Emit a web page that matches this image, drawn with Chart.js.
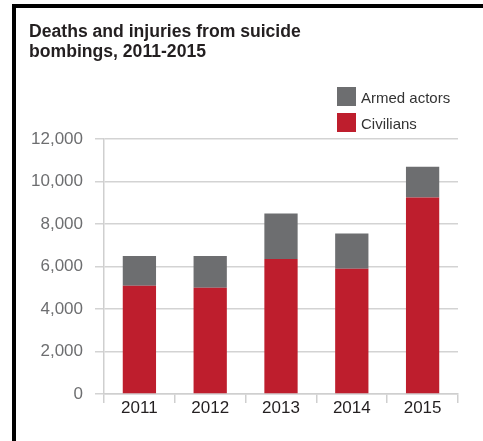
<!DOCTYPE html>
<html lang="en">
<head>
    <meta charset="utf-8">
    <title>Deaths and injuries from suicide bombings</title>
    <script src="https://cdn.jsdelivr.net/npm/chart.js"></script>
    <style>
        html, body { margin: 0; padding: 0; background: #fff; }
        #wrap { position: relative; width: 483px; height: 441px; overflow: hidden; font-family: "Liberation Sans", Arial, Helvetica, sans-serif; }
        #frameTop { position: absolute; left: 12px; top: 4px; width: 471px; height: 4px; background: #000; }
        #frameLeft { position: absolute; left: 12px; top: 4px; width: 4px; height: 437px; background: #000; }
        #title { position: absolute; left: 29px; top: 21px; font-size: 17.6px; font-weight: bold; line-height: 20px; color: #231f20; }
        #legend { position: absolute; left: 337px; top: 87px; }
        .item { height: 19px; margin-bottom: 7px; display: flex; align-items: center; font-size: 15px; color: #333; }
        .item span.txt { position: relative; top: 1px; }
        .box { width: 19px; height: 19px; margin-right: 5px; }
        #chartCanvas { position: absolute; left: 0; top: 0; }
    </style>
</head>
<body>
<div id="wrap">
    <canvas id="chartCanvas" width="483" height="441"></canvas>
    <div id="frameTop"></div>
    <div id="frameLeft"></div>
    <div id="title">Deaths and injuries from suicide<br>bombings, 2011-2015</div>
    <div id="legend"></div>
</div>
<script>
    // data
    var years = ['2011', '2012', '2013', '2014', '2015'];
    var civilians = [5100, 5000, 6350, 5900, 9250];
    var armedActors = [1400, 1500, 2150, 1650, 1450];
    var yTicks = [0, 2000, 4000, 6000, 8000, 10000, 12000];

    var RED = '#be1e2d';
    var GREY = '#6d6e70';
    var FONT = '"Liberation Sans", Arial, Helvetica, sans-serif';

    var ctx = document.getElementById('chartCanvas').getContext('2d');
    var myChart = new Chart(ctx, {
        type: 'bar',
        data: {
            labels: years,
            datasets: [{
                label: 'Civilians',
                data: civilians,
                backgroundColor: RED,
                borderWidth: 0
            }, {
                label: 'Armed actors',
                data: armedActors,
                backgroundColor: GREY,
                borderWidth: 0
            }]
        },
        options: {
            responsive: false,
            animation: false,
            layout: {
                padding: { left: 16, top: 139, right: 25, bottom: 0 }
            },
            datasets: {
                bar: { categoryPercentage: 1, barPercentage: 0.47 }
            },
            plugins: {
                legend: { display: false },
                title: { display: false },
                tooltip: { enabled: false }
            },
            scales: {
                x: {
                    stacked: true,
                    afterFit: function (scale) { scale.height = 47; },
                    grid: {
                        offset: true,
                        drawOnChartArea: false,
                        drawTicks: true,
                        tickLength: 9,
                        color: '#cfcfcf',
                        lineWidth: 1.5
                    },
                    border: { display: true, color: '#cfcfcf', width: 1.5 },
                    ticks: {
                        padding: -5,
                        color: '#231f20',
                        font: { family: FONT, size: 17 }
                    }
                },
                y: {
                    stacked: true,
                    min: yTicks[0],
                    max: yTicks[yTicks.length - 1],
                    afterFit: function (scale) { scale.width = 88; },
                    afterBuildTicks: function (scale) {
                        scale.ticks = yTicks.map(function (v) { return { value: v }; });
                    },
                    grid: {
                        color: '#d3d3d3',
                        lineWidth: 1.5,
                        tickLength: 9
                    },
                    border: { display: true, color: '#cfcfcf', width: 1.5 },
                    ticks: {
                        padding: 12,
                        color: '#6d6e70',
                        font: { family: FONT, size: 17 },
                        callback: function (v) { return v.toLocaleString('en-US'); }
                    }
                }
            }
        }
    });

    // legend, top series first
    var legendEl = document.getElementById('legend');
    myChart.data.datasets.slice().reverse().forEach(function (ds) {
        var item = document.createElement('div');
        item.className = 'item';
        item.innerHTML = '<span class="box" style="background:' + ds.backgroundColor + '"></span><span class="txt">' + ds.label + '</span>';
        legendEl.appendChild(item);
    });
</script>
</body>
</html>
